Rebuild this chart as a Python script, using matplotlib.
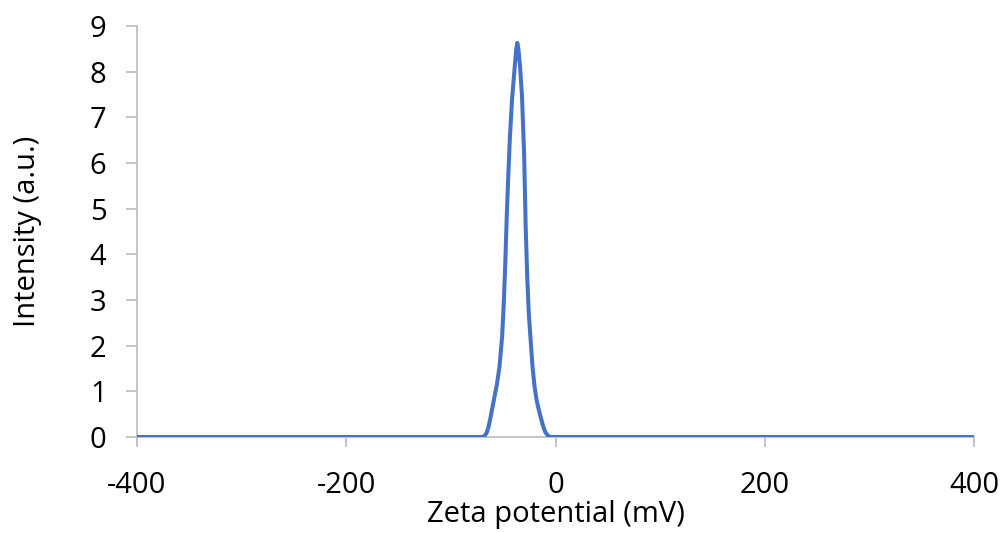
import matplotlib
matplotlib.use("Agg")
import matplotlib.pyplot as plt

plt.rcParams['font.family'] = ['Open Sans', 'DejaVu Sans']
plt.rcParams['axes.unicode_minus'] = False

# Zeta potential (mV) and intensity (a.u.)
zeta = [-400, -70, -68, -66, -64, -62, -59, -56, -53.5, -51, -49.5, -48, -46.5, -45,
        -43.5, -41.5, -39, -37.5, -36.5, -35.5, -34, -32, -30, -28.5, -27,
        -25.5, -24, -22, -20, -18, -16, -14, -12, -10, -8, -6, -4, 400]
intensity = [0, 0, 0.02, 0.08, 0.22, 0.44, 0.8, 1.15, 1.55, 2.2, 2.9, 3.8, 4.9, 5.8,
             6.6, 7.4, 8.1, 8.5, 8.63, 8.5, 8.15, 7.45, 6.2, 4.6, 3.5,
             2.7, 2.2, 1.55, 1.1, 0.8, 0.6, 0.42, 0.25, 0.12, 0.05, 0.01, 0, 0]

x_ticks = [-400, -200, 0, 200, 400]
y_ticks = [0, 1, 2, 3, 4, 5, 6, 7, 8, 9]
x_label = "Zeta potential (mV)"
y_label = "Intensity (a.u.)"

fig = plt.figure(figsize=(10.02, 5.33), dpi=100)
ax = fig.add_axes([137/1002, 1-437/533, (974-137)/1002, (437-26)/533])

ax.plot(zeta, intensity, color='#4472C4', linewidth=2.9, solid_joinstyle='round',
        solid_capstyle='round', zorder=3)

ax.set_xlim(-400, 400)
ax.set_ylim(0, 9)
ax.set_xticks(x_ticks)
ax.set_yticks(y_ticks)

for s in ['top', 'right']:
    ax.spines[s].set_visible(False)
for s in ['left', 'bottom']:
    ax.spines[s].set_color('#BFBFBF')
    ax.spines[s].set_linewidth(1.3)
ax.spines['bottom'].set_zorder(2)

ax.tick_params(axis='both', colors='#BFBFBF', width=1.3, labelcolor='black',
               labelsize=21, direction='out')
ax.tick_params(axis='y', length=8, pad=14)
ax.tick_params(axis='x', length=7.5, pad=17)

ax.set_xlabel(x_label, fontsize=21, labelpad=0)
ax.set_ylabel(y_label, fontsize=21, labelpad=34)

fig.savefig("out.png", dpi=100)
